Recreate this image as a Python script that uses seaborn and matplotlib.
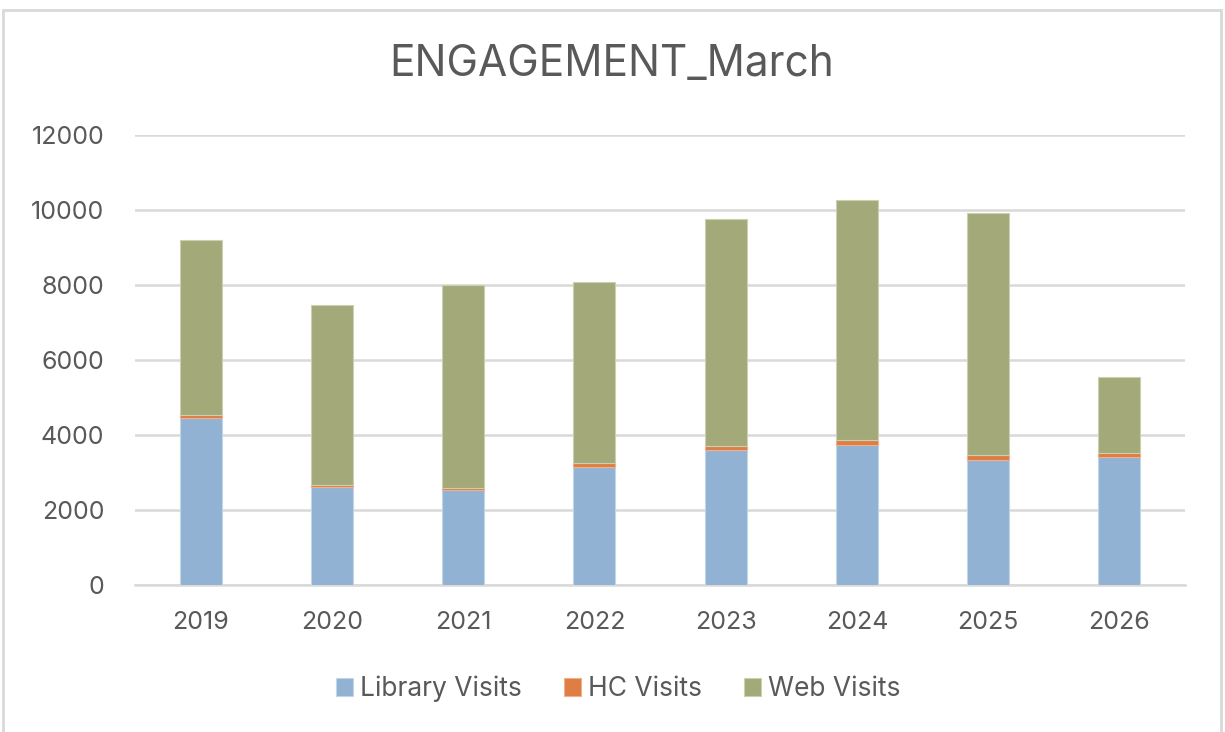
import matplotlib
matplotlib.use("Agg")
import matplotlib.pyplot as plt
from matplotlib.patches import Patch, Rectangle
import numpy as np
import pandas as pd
import seaborn as sns

# Values
years = ["2019", "2020", "2021", "2022", "2023", "2024", "2025", "2026"]
library_visits = [4460, 2610, 2525, 3150, 3600, 3745, 3330, 3415]
hc_visits = [80, 45, 50, 100, 100, 135, 130, 100]
web_visits = [4650, 4800, 5415, 4830, 6070, 6385, 6450, 2020]

series_names = ["Library Visits", "HC Visits", "Web Visits"]
series_colors = ["#91B2D2", "#DE7D44", "#A4A97A"]
edge_colors = ["#C3D6E8", "#EFB08C", "#CDD0B0"]
text_color = "#595959"
grid_color = "#D9D9D9"

sns.set_theme(style="white")
plt.rcParams["font.family"] = ["Inter", "DejaVu Sans"]

fig = plt.figure(figsize=(12.25, 7.32), dpi=100)
ax = fig.add_axes([135 / 1225, 147 / 732, 1050 / 1225, 450 / 732])

df = pd.DataFrame({"year": years, "Library Visits": library_visits,
                   "HC Visits": hc_visits, "Web Visits": web_visits})

bottom = np.zeros(len(years))
for name, color, ec in zip(series_names, series_colors, edge_colors):
    sns.barplot(data=df, x="year", y=name, color=color, width=0.32,
                bottom=bottom, edgecolor=ec, linewidth=0.8, saturation=1,
                ax=ax, zorder=3)
    bottom = bottom + df[name].to_numpy()

ax.set_ylim(0, 12000)
ax.set_xlim(-0.5, len(years) - 0.5)
ax.set_yticks(range(0, 12001, 2000))
ax.yaxis.grid(True, color=grid_color, linewidth=1.8, zorder=0)
ax.set_axisbelow(True)
for side in ["top", "right", "left"]:
    ax.spines[side].set_visible(False)
ax.spines["bottom"].set_color(grid_color)
ax.spines["bottom"].set_linewidth(1.8)
ax.set_xlabel("")
ax.set_ylabel("")
ax.tick_params(axis="y", length=0, pad=22, labelsize=18, labelcolor=text_color)
ax.tick_params(axis="x", length=0, pad=19, labelsize=18, labelcolor=text_color)

fig.text(612 / 1225, 1 - 64 / 732, "ENGAGEMENT_March", ha="center", va="center",
         fontsize=30.5, color=text_color)

handles = [Patch(facecolor=c, edgecolor=e, linewidth=0.8) for c, e in zip(series_colors, edge_colors)]
fig.legend(handles, series_names, loc="center", bbox_to_anchor=(618 / 1225, 1 - 689 / 732),
           ncol=3, frameon=False, fontsize=19, labelcolor=text_color,
           handlelength=0.65, handleheight=0.65, handletextpad=0.25, columnspacing=1.6)

# light chart-area border like the Excel frame
fig.patches.append(Rectangle((3 / 1225, -0.02), 1218 / 1225, 1.02 - 10 / 732,
                             transform=fig.transFigure, fill=False,
                             edgecolor=grid_color, linewidth=2))

fig.savefig("out.png", dpi=100, facecolor="white")
